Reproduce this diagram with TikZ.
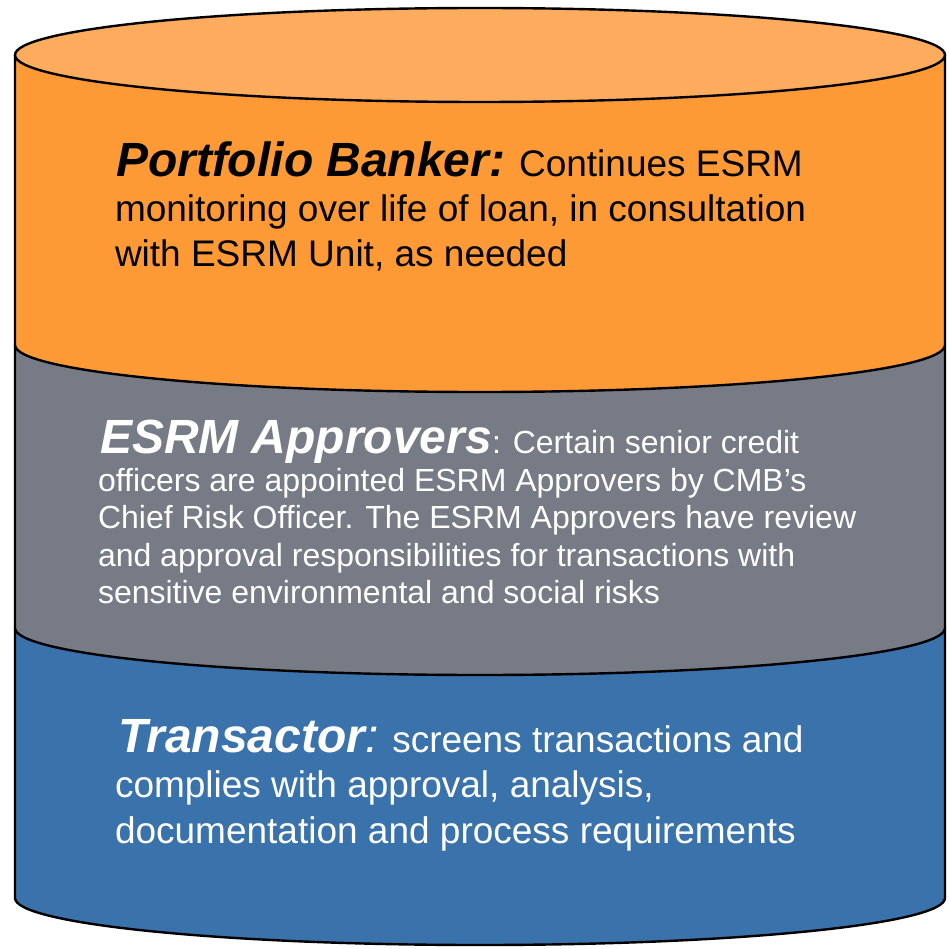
\documentclass[tikz,border=0pt]{standalone}
\usepackage{fontspec}
\setmainfont{Liberation Sans}
\definecolor{topor}{HTML}{FDAC5E}
\definecolor{bodyor}{HTML}{FE9A35}
\definecolor{grayband}{HTML}{767B85}
\definecolor{blueband}{HTML}{3A72AC}
\tikzset{
  band/.style={draw=black, line width=2.4pt, line join=round},
  txt/.style={anchor=base west, inner sep=0pt, outer sep=0pt},
}
\newcommand{\bigbi}{\fontsize{48}{52}\selectfont\bfseries\itshape}
\newcommand{\bodyA}{\fontsize{37}{45}\selectfont}
\newcommand{\bodyB}{\fontsize{32}{38}\selectfont}
\begin{document}
\begin{tikzpicture}[x=1pt,y=1pt]
\useasboundingbox (0,0) rectangle (948,-949);
% blue band
\draw[band, fill=blueband] (15,-628) -- (15,-898) arc[start angle=180, end angle=360, x radius=465, y radius=47] -- (945,-628) -- cycle;
% gray band
\draw[band, fill=grayband] (15,-345) -- (15,-628) arc[start angle=180, end angle=360, x radius=465, y radius=47] -- (945,-345) -- cycle;
% orange band
\draw[band, fill=bodyor] (15,-55) -- (15,-345) arc[start angle=180, end angle=360, x radius=465, y radius=47] -- (945,-55) -- cycle;
% top ellipse
\draw[band, fill=topor] (480,-55) ellipse[x radius=465, y radius=47];

% orange text
\node[txt] (pb1) at (116,-177) {{\bigbi Portfolio Banker:}\bodyA{} Continues ESRM};
\node[txt] (pb2) at (115,-222) {\bodyA monitoring over life of loan, in consultation};
\node[txt] (pb3) at (115,-267) {\bodyA with ESRM Unit, as needed};

% gray text
\node[txt, text=white] (ea1) at (100,-453) {{\bigbi ESRM Approvers}\bodyB: Certain senior credit};
\node[txt, text=white] (ea2) at (98,-491) {\bodyB officers are appointed ESRM Approvers by CMB’s};
\node[txt, text=white] (ea3) at (98,-528.5) {\bodyB Chief Risk Officer. The ESRM Approvers have review};
\node[txt, text=white] (ea4) at (98,-566) {\bodyB and approval responsibilities for transactions with};
\node[txt, text=white] (ea5) at (98,-603.5) {\bodyB sensitive environmental and social risks};

% blue text
\node[txt, text=white] (tr1) at (118,-752) {{\bigbi Transactor}{\fontsize{48}{52}\selectfont\itshape:}\bodyA{} screens transactions and};
\node[txt, text=white] (tr2) at (115,-797.5) {\bodyA complies with approval, analysis,};
\node[txt, text=white] (tr3) at (115,-843) {\bodyA documentation and process requirements};
\end{tikzpicture}
\end{document}
